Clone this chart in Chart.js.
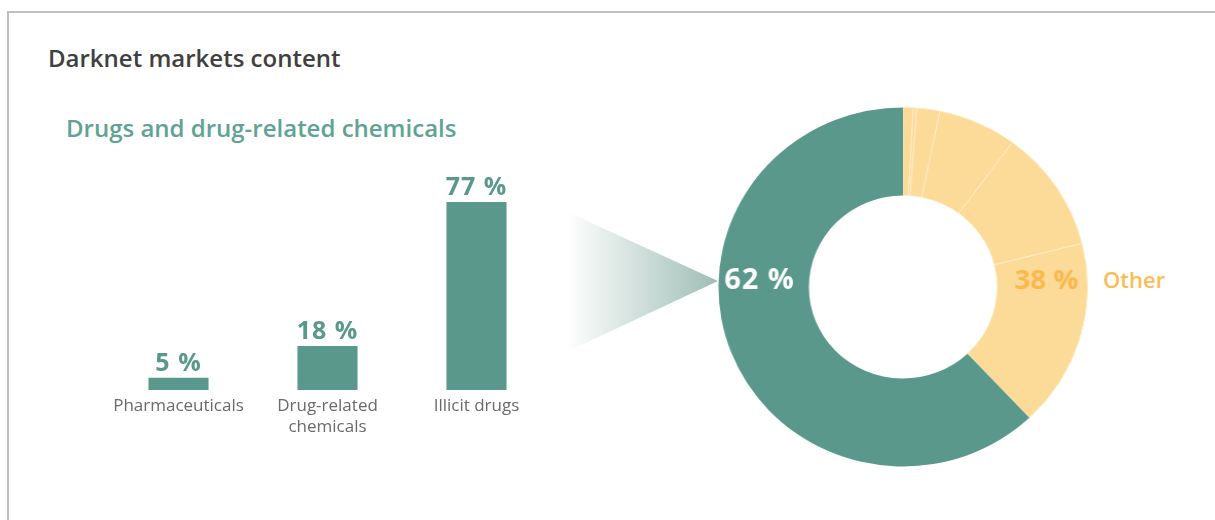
<!DOCTYPE html>
<html>
<head>
<meta charset="utf-8">
<script src="https://cdn.jsdelivr.net/npm/chart.js@4/dist/chart.umd.min.js"></script>
<style>
  html, body { margin: 0; padding: 0; background: #ffffff; }
  body { width: 1215px; height: 520px; position: relative; overflow: hidden; font-family: "Open Sans", sans-serif; }
  .frame { position: absolute; left: 7px; top: 11px; right: -10px; bottom: -10px;
           border-left: 2px solid #c0c0c0; border-top: 2px solid #c0c0c0; }
  .title { position: absolute; left: 48px; top: 41px; font-size: 24px; font-weight: 600; color: #404040; white-space: nowrap; }
  .subtitle { position: absolute; left: 66px; top: 111px; font-size: 24px; font-weight: 600; color: #5ea393; white-space: nowrap; }
  .other { position: absolute; left: 1103px; top: 264px; font-size: 22px; font-weight: 600; color: #fbbd55; white-space: nowrap; }
  #bars { position: absolute; left: 104px; top: 150px; }
  #donut { position: absolute; left: 723px; top: 107px; transform: scaleX(1.028); transform-origin: 50% 50%; }
</style>
</head>
<body>
<div class="frame"></div>
<div class="title">Darknet markets content</div>
<div class="subtitle">Drugs and drug-related chemicals</div>
<canvas id="bars" width="620" height="300"></canvas>
<canvas id="donut" width="360" height="360"></canvas>
<div class="other">Other</div>

<script>
// Breakdown of the drug listings
const categories = [["Pharmaceuticals"], ["Drug-related", "chemicals"], ["Illicit drugs"]];
const drugShares = [5, 18, 77];

// Whole-market split: drugs vs. the remaining categories
const drugsTotal = 62;
const otherParts = [0.9, 0.3, 2.0, 6.9, 11.0, 16.9];

const TEAL = "#59988b";
const SAND = "#fcda97";
const ORANGE = "#fbb84f";
const FONT = '"Open Sans", sans-serif';

const pct = v => `${Math.round(v)} %`;

// Value labels above the bars, category names below, and the connector to the ring
const barDecor = {
  id: "barDecor",
  beforeDatasetsDraw(chart) {
    const ctx = chart.ctx;
    const meta = chart.getDatasetMeta(0);
    const last = meta.data[meta.data.length - 1];
    const x0 = last.x + last.width / 2;
    const apexX = 614, apexY = 131;
    ctx.save();
    const g = ctx.createLinearGradient(x0 + 60, 0, apexX, 0);
    g.addColorStop(0, "rgba(158,189,181,0)");
    g.addColorStop(1, "rgba(158,189,181,1)");
    ctx.fillStyle = g;
    ctx.beginPath();
    ctx.moveTo(x0, last.y - 18);
    ctx.lineTo(apexX, apexY);
    ctx.lineTo(x0, last.base - 10);
    ctx.closePath();
    ctx.fill();
    ctx.restore();
  },
  afterDatasetsDraw(chart) {
    const ctx = chart.ctx;
    const meta = chart.getDatasetMeta(0);
    ctx.save();
    ctx.textAlign = "center";
    meta.data.forEach((bar, i) => {
      ctx.fillStyle = TEAL;
      ctx.font = `700 25px ${FONT}`;
      ctx.letterSpacing = "1px";
      ctx.textBaseline = "alphabetic";
      ctx.fillText(pct(drugShares[i]), bar.x, bar.y - 7);
      ctx.letterSpacing = "0px";
      ctx.fillStyle = "#6a6a6a";
      ctx.font = `400 17px ${FONT}`;
      ctx.textBaseline = "middle";
      categories[i].forEach((line, j) => ctx.fillText(line, bar.x, bar.base + 16 + j * 21));
    });
    ctx.restore();
  }
};

new Chart(document.getElementById("bars"), {
  type: "bar",
  data: {
    labels: categories,
    datasets: [{ data: drugShares, backgroundColor: TEAL, barPercentage: 0.403, categoryPercentage: 1 }]
  },
  options: {
    responsive: false,
    animation: false,
    layout: { padding: { top: 52, bottom: 60, left: 0, right: 173 } },
    scales: { x: { display: false }, y: { display: false, min: 0, max: 77 } },
    plugins: { legend: { display: false }, tooltip: { enabled: false } }
  },
  plugins: [barDecor]
});

// Percentages written across the ring
const ringLabels = {
  id: "ringLabels",
  afterDatasetsDraw(chart) {
    const ctx = chart.ctx;
    const arc = chart.getDatasetMeta(0).data[0];
    const r = (arc.outerRadius + arc.innerRadius) / 2 + 4;
    const cx = arc.x, cy = arc.y - 6;
    const otherTotal = otherParts.reduce((a, b) => a + b, 0);
    ctx.save();
    ctx.textAlign = "center";
    ctx.textBaseline = "middle";
    ctx.font = `700 28px ${FONT}`;
    ctx.letterSpacing = "1px";
    ctx.fillStyle = "#ffffff";
    ctx.fillText(pct(drugsTotal), cx - r, cy);
    ctx.fillStyle = ORANGE;
    ctx.letterSpacing = "0px";
    ctx.font = `700 27px ${FONT}`;
    ctx.fillText(pct(otherTotal), cx + r, cy);
    ctx.restore();
  }
};

new Chart(document.getElementById("donut"), {
  type: "doughnut",
  data: {
    labels: ["Other 1", "Other 2", "Other 3", "Other 4", "Other 5", "Other 6", "Drugs and drug-related chemicals"],
    datasets: [{
      data: [...otherParts, drugsTotal],
      backgroundColor: [...otherParts.map(() => SAND), TEAL],
      borderColor: "rgba(255,236,200,1)",
      borderWidth: [...otherParts.map(() => 1), 0]
    }]
  },
  options: {
    responsive: false,
    animation: false,
    cutout: "51%",
    layout: { padding: 0 },
    plugins: { legend: { display: false }, tooltip: { enabled: false } }
  },
  plugins: [ringLabels]
});
</script>
</body>
</html>
